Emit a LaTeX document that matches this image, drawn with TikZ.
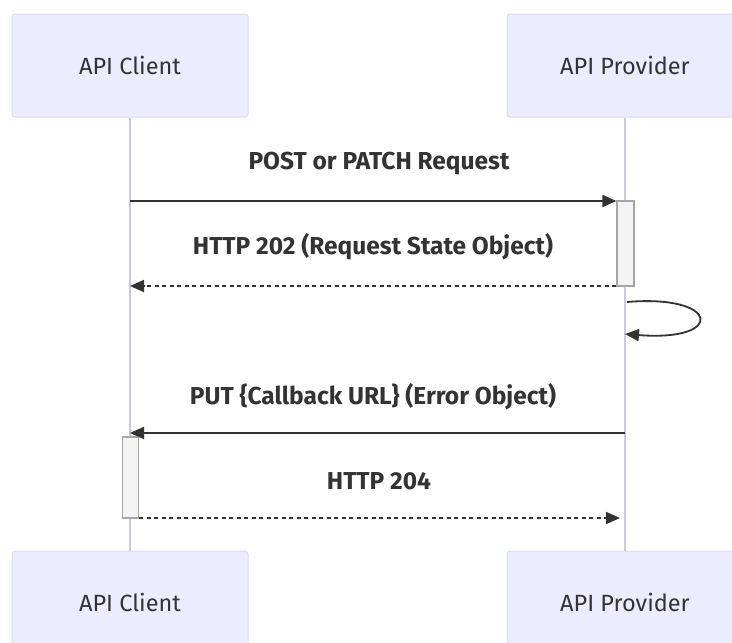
\documentclass[tikz,border=0pt]{standalone}
\usepackage{fontspec}
\setmainfont{Fira Sans}
\usetikzlibrary{arrows.meta}
\definecolor{actorfill}{HTML}{ECECFF}
\definecolor{actorline}{HTML}{DCDCEC}
\definecolor{lifeline}{HTML}{C9C9DD}
\definecolor{actfill}{HTML}{F4F4F4}
\definecolor{actline}{HTML}{A6A6A6}
\definecolor{msgline}{HTML}{333333}
\tikzset{
  actor/.style={draw=actorline, fill=actorfill, line width=1pt, rounded corners=3pt,
    minimum width=236pt, minimum height=103pt, inner sep=0pt,
    font=\fontsize{23.5}{26}\selectfont, text=msgline},
  life/.style={draw=lifeline, line width=1.2pt},
  activ/.style={draw=actline, fill=actfill, line width=1.2pt, inner sep=0pt},
  msg/.style={draw=msgline, line width=1.8pt, -{Triangle[length=14pt,width=12pt]}},
  reply/.style={msg, dash pattern=on 4pt off 3.5pt},
  msglabel/.style={font=\fontsize{24.5}{28}\selectfont\bfseries, text=msgline}
}
\begin{document}
\begin{tikzpicture}[x=1pt,y=-1pt]
\useasboundingbox (0,0) rectangle (732,643);
% participants
\node[actor] (clientTop) at (130,65.5) {API Client};
\node[actor] (provTop) at (625,65.5) {API Provider};
\node[actor] (clientBot) at (130,602.5) {API Client};
\node[actor] (provBot) at (625,602.5) {API Provider};
% lifelines
\draw[life] (clientTop.south) -- (clientBot.north);
\draw[life] (provTop.south) -- (provBot.north);
% activation bars
\node[activ, minimum width=17pt, minimum height=85pt] (provAct) at (625.5,243.5) {};
\node[activ, minimum width=16pt, minimum height=81pt] (clientAct) at (130.5,477.5) {};
% message endpoints
\coordinate (m1s) at (130,201);
\coordinate (m2e) at (130,286);
\coordinate (l1s) at (627,302);
\coordinate (l1e) at (625,334);
\coordinate (m3s) at (625,433);
\coordinate (m3e) at (130,433);
\coordinate (m4e) at (620,518);
% messages
\node[msglabel] (lab1) at (379,164) {POST or PATCH Request};
\draw[msg] (m1s) -- (m1s -| provAct.west);
\node[msglabel] (lab2) at (373,247) {HTTP 202 (Request State Object)};
\draw[reply] (m2e -| provAct.west) -- (m2e);
\draw[msg] (l1s) .. controls (720,294) and (726,342) .. (l1e);
\node[msglabel] (lab3) at (373,397) {PUT \{Callback URL\} (Error Object)};
\draw[msg] (m3s) -- (m3e);
\node[msglabel] (lab4) at (379,481) {HTTP 204};
\draw[reply] (m4e -| clientAct.east) -- (m4e);
\end{tikzpicture}
\end{document}
